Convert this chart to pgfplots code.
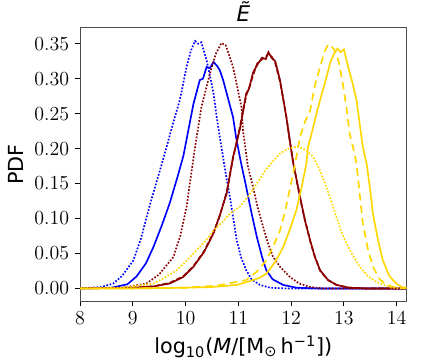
\documentclass[border=0pt]{standalone}
\usepackage{fontspec}
\setmainfont{DejaVu Sans}
\usepackage{pgfplots}
\pgfplotsset{compat=1.18}
\definecolor{cblue}{RGB}{0,0,255}
\definecolor{cred}{RGB}{139,0,0}
\definecolor{cgold}{RGB}{255,215,0}
\begin{document}
\begin{tikzpicture}
\begin{axis}[
  scale only axis,
  width=196bp,height=164bp,
  xmin=8,xmax=14.19,ymin=-0.018,ymax=0.373,
  xtick={8,...,14},
  ytick={0,0.05,0.10,0.15,0.20,0.25,0.30,0.35},
  yticklabel style={/pgf/number format/.cd,fixed,fixed zerofill,precision=2},
  tick label style={font=\fontsize{11.5}{13}\selectfont},
  tick align=outside,tick pos=left,
  major tick length=3bp,
  axis line style={black!70},
  every tick/.style={black,line width=0.6pt},
  xlabel={log\textsubscript{10}(\textit{M}/[M\textsubscript{⊙}\,h\textsuperscript{−1}])},
  ylabel={PDF},
  label style={font=\fontsize{12.5}{14}\selectfont},
  title={\itshape\~{E}},
  title style={font=\fontsize{13}{15}\selectfont,yshift=-6bp},
  every axis plot/.append style={line width=1bp},
]
% blue solid
\addplot[cblue] coordinates {(8.0,0)(8.6,0.001)(8.9,0.006)(9.07,0.017)(9.25,0.036)(9.39,0.059)(9.55,0.09)(9.70,0.122)(9.85,0.16)(9.96,0.19)(10.05,0.225)(10.15,0.264)(10.27,0.298)(10.33,0.300)(10.40,0.317)(10.46,0.315)(10.53,0.324)(10.60,0.318)(10.65,0.312)(10.72,0.296)(10.78,0.279)(10.90,0.245)(10.96,0.215)(11.05,0.18)(11.15,0.145)(11.25,0.108)(11.35,0.074)(11.45,0.045)(11.53,0.026)(11.65,0.013)(11.85,0.005)(12.1,0.001)(12.5,0)(14.19,0)};
% blue dotted
\addplot[cblue,densely dotted] coordinates {(8.0,0)(8.4,0.002)(8.63,0.007)(8.8,0.018)(9.01,0.040)(9.15,0.07)(9.33,0.121)(9.5,0.165)(9.64,0.202)(9.77,0.238)(9.89,0.269)(10.02,0.317)(10.10,0.34)(10.18,0.354)(10.24,0.350)(10.30,0.352)(10.40,0.326)(10.46,0.305)(10.53,0.279)(10.60,0.24)(10.68,0.202)(10.76,0.165)(10.84,0.131)(10.97,0.069)(11.05,0.045)(11.15,0.026)(11.25,0.013)(11.41,0.005)(11.6,0.001)(11.9,0)(14.19,0)};
% dark red dotted
\addplot[cred,densely dotted] coordinates {(8.0,0)(8.8,0.001)(9.26,0.007)(9.5,0.02)(9.77,0.045)(9.9,0.075)(10.02,0.117)(10.10,0.16)(10.18,0.202)(10.30,0.259)(10.46,0.307)(10.57,0.335)(10.68,0.351)(10.76,0.348)(10.82,0.335)(10.90,0.317)(11.06,0.259)(11.09,0.225)(11.18,0.175)(11.28,0.145)(11.37,0.115)(11.47,0.088)(11.56,0.065)(11.66,0.045)(11.80,0.030)(11.97,0.017)(12.15,0.007)(12.36,0.002)(12.6,0)(14.19,0)};
% dark red solid
\addplot[cred] coordinates {(8.0,0)(9.0,0.001)(9.4,0.003)(9.70,0.007)(9.95,0.016)(10.15,0.031)(10.35,0.052)(10.53,0.079)(10.65,0.105)(10.78,0.136)(10.90,0.188)(11.03,0.228)(11.15,0.279)(11.20,0.285)(11.28,0.309)(11.36,0.320)(11.45,0.330)(11.52,0.328)(11.57,0.338)(11.63,0.330)(11.70,0.325)(11.79,0.298)(11.91,0.245)(11.97,0.215)(12.04,0.179)(12.17,0.131)(12.26,0.098)(12.36,0.069)(12.45,0.045)(12.55,0.026)(12.70,0.012)(12.86,0.005)(13.1,0.001)(13.4,0)(14.19,0)};
% dark red dashed
\addplot[cred,dash pattern=on 3bp off 1.5bp] coordinates {(8.0,0)(9.0,0.001)(9.4,0.003)(9.70,0.008)(9.95,0.017)(10.15,0.032)(10.35,0.053)(10.53,0.080)(10.65,0.104)(10.78,0.138)(10.90,0.186)(11.03,0.231)(11.15,0.276)(11.22,0.290)(11.28,0.305)(11.36,0.322)(11.45,0.328)(11.52,0.331)(11.57,0.336)(11.63,0.332)(11.70,0.322)(11.79,0.296)(11.91,0.246)(11.97,0.213)(12.04,0.181)(12.17,0.129)(12.26,0.099)(12.36,0.068)(12.45,0.046)(12.55,0.025)(12.70,0.012)(12.86,0.005)(13.1,0.001)(13.4,0)(14.19,0)};
% gold dotted
\addplot[cgold,densely dotted] coordinates {(8.0,0)(8.8,0.001)(9.39,0.007)(9.6,0.015)(9.83,0.026)(10.0,0.038)(10.21,0.055)(10.38,0.068)(10.53,0.083)(10.70,0.095)(10.84,0.107)(11.03,0.117)(11.20,0.133)(11.35,0.150)(11.55,0.173)(11.79,0.193)(11.95,0.200)(12.13,0.203)(12.28,0.198)(12.42,0.188)(12.55,0.168)(12.67,0.145)(12.77,0.123)(12.86,0.102)(12.95,0.082)(13.05,0.064)(13.18,0.046)(13.30,0.031)(13.45,0.018)(13.62,0.009)(13.9,0.001)(14.19,0)};
% gold solid
\addplot[cgold] coordinates {(8.0,0)(9.0,0)(10.0,0.001)(10.5,0.002)(10.97,0.005)(11.2,0.010)(11.40,0.015)(11.53,0.021)(11.70,0.038)(11.85,0.059)(11.98,0.085)(12.10,0.112)(12.20,0.145)(12.29,0.179)(12.32,0.202)(12.40,0.225)(12.48,0.250)(12.58,0.278)(12.67,0.302)(12.75,0.325)(12.83,0.338)(12.88,0.343)(12.94,0.338)(13.00,0.342)(13.08,0.317)(13.16,0.295)(13.24,0.269)(13.30,0.235)(13.36,0.202)(13.43,0.179)(13.50,0.140)(13.55,0.107)(13.65,0.068)(13.74,0.040)(13.86,0.018)(13.99,0.007)(14.1,0.002)(14.19,0.001)};
% gold dashed
\addplot[cgold,dash pattern=on 4.5bp off 3bp] coordinates {(8.0,0)(9.0,0)(10.0,0.001)(10.6,0.004)(11.15,0.012)(11.35,0.024)(11.53,0.040)(11.65,0.058)(11.79,0.083)(11.88,0.108)(11.97,0.140)(12.08,0.180)(12.17,0.217)(12.26,0.238)(12.36,0.254)(12.45,0.290)(12.55,0.317)(12.63,0.338)(12.70,0.349)(12.77,0.346)(12.83,0.340)(12.90,0.325)(12.98,0.293)(13.05,0.258)(13.11,0.221)(13.18,0.200)(13.24,0.179)(13.30,0.135)(13.36,0.093)(13.45,0.058)(13.55,0.031)(13.68,0.013)(13.81,0.005)(14.0,0.001)(14.19,0)};
\end{axis}
\pgfresetboundingbox
\path[use as bounding box] (current axis.south west) ++(-48bp,-37.8bp) rectangle ++(254.4bp,218.4bp);
\end{tikzpicture}
\end{document}
